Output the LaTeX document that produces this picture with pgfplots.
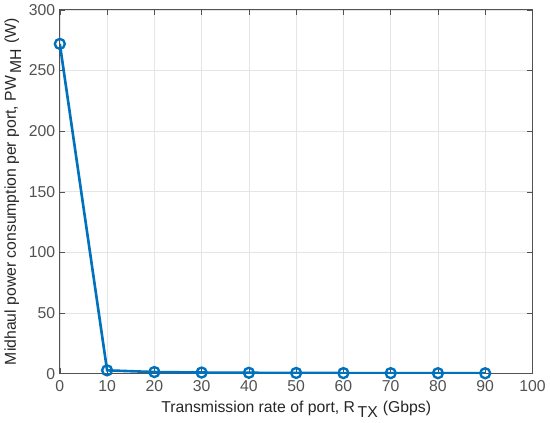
\documentclass[border=0pt]{standalone}
\usepackage{fontspec}
\setmainfont{Liberation Sans}
\usepackage{pgfplots}
\pgfplotsset{compat=1.18}
\definecolor{mblue}{rgb}{0,0.447,0.741}
\definecolor{axgray}{rgb}{0.15,0.15,0.15}
\begin{document}
\begin{tikzpicture}
\begin{axis}[
    scale only axis,
    width=360pt, height=277pt,
    xmin=0, xmax=100, ymin=0, ymax=300,
    xtick={0,10,...,100},
    ytick={0,50,...,300},
    tick align=inside,
    tick pos=both,
    major tick length=4pt,
    grid=major,
    grid style={gray!20, line width=0.5pt},
    axis line style={axgray!80, line width=0.7pt},
    every tick/.style={axgray!80},
    tick label style={font=\fontsize{12}{14}\selectfont, text=axgray!80},
    xticklabel style={yshift=-2pt},
    /pgf/number format/assume math mode=true,
    xlabel={Transmission rate of port, R\,$_{\textrm{TX}}$ (Gbps)},
    ylabel={Midhaul power consumption per port, PW\,$_{\textrm{MH}}$ (W)},
    label style={font=\fontsize{12}{14}\selectfont, text=axgray},
    xlabel style={yshift=0pt},
    ylabel style={yshift=-1pt},
]
\addplot[mblue, line width=2pt, mark=o, mark size=3.8pt, mark options={line width=1.8pt}] coordinates {
    (0,272) (10,2.7) (20,1.3) (30,0.9) (40,0.7) (50,0.55) (60,0.45) (70,0.4) (80,0.35) (90,0.3)
};
\end{axis}
\end{tikzpicture}
\end{document}
